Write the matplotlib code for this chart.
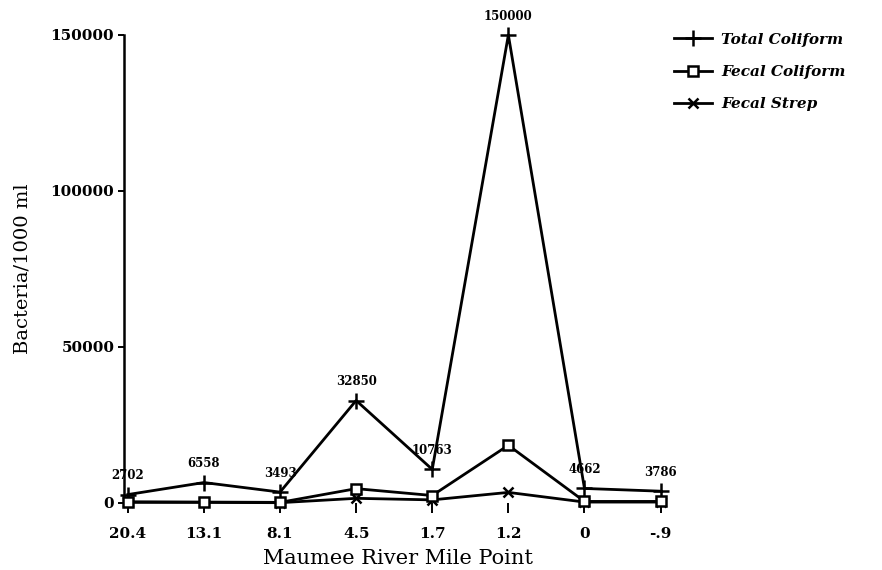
import numpy as np
import matplotlib
matplotlib.use("Agg")
import matplotlib.pyplot as plt

# river mile points (categorical on x)
miles = ["20.4", "13.1", "8.1", "4.5", "1.7", "1.2", "0", "-.9"]
total_coliform = [2702, 6558, 3493, 32850, 10763, 150000, 4662, 3786]
fecal_coliform = [400, 300, 200, 4600, 2400, 18500, 500, 500]
fecal_strep = [200, 200, 100, 1500, 1000, 3400, 300, 300]
total_labels = ["2702", "6558", "3493", "32850", "10763", "150000", "4662", "3786"]

x = np.arange(len(miles))

fig = plt.figure(figsize=(8.82, 5.70), dpi=100)
ax = fig.add_axes([124/882, 1-503/570, 548/882, 468/570])

ax.plot(x, total_coliform, color="black", lw=2, marker="+", ms=11, mew=1.8,
        label="Total Coliform", clip_on=False, zorder=3)
ax.plot(x, fecal_coliform, color="black", lw=2, marker="s", ms=7, mew=1.8,
        mfc="white", label="Fecal Coliform", clip_on=False, zorder=4)
ax.plot(x, fecal_strep, color="black", lw=2, marker="x", ms=7, mew=1.8,
        label="Fecal Strep", clip_on=False, zorder=3)

for xi, v, t in zip(x, total_coliform, total_labels):
    ax.annotate(t, (xi, v), xytext=(0, 9), textcoords="offset points",
                ha="center", va="bottom", fontsize=8.5, fontweight="bold",
                family="DejaVu Serif")

ax.set_xlim(-0.05, 7.15)
ax.set_ylim(0, 150000)
ax.set_xticks(x)
ax.set_xticklabels(miles)
ax.set_yticks([0, 50000, 100000, 150000])
ax.set_yticklabels(["0", "50000", "100000", "150000"])

for lab in ax.get_xticklabels() + ax.get_yticklabels():
    lab.set_family("DejaVu Serif")
    lab.set_fontweight("bold")
    lab.set_fontsize(11)

ax.tick_params(axis="x", length=7, width=1.4, pad=10)
ax.tick_params(axis="y", length=4, width=1.4, pad=3)

for s in ["top", "right", "bottom"]:
    ax.spines[s].set_visible(False)
ax.spines["left"].set_linewidth(1.8)

ax.set_xlabel("Maumee River Mile Point", family="DejaVu Serif", fontsize=15, labelpad=6)
ax.set_ylabel("Bacteria/1000 ml", family="DejaVu Serif", fontsize=14, labelpad=14)

leg = fig.legend(loc="upper left", bbox_to_anchor=(660/882, 1-19/570), frameon=False,
                 handlelength=2.5, labelspacing=1.2, handletextpad=0.6,
                 prop={"family": "DejaVu Serif", "weight": "bold", "style": "italic", "size": 11})

fig.savefig("out.png", dpi=100)
